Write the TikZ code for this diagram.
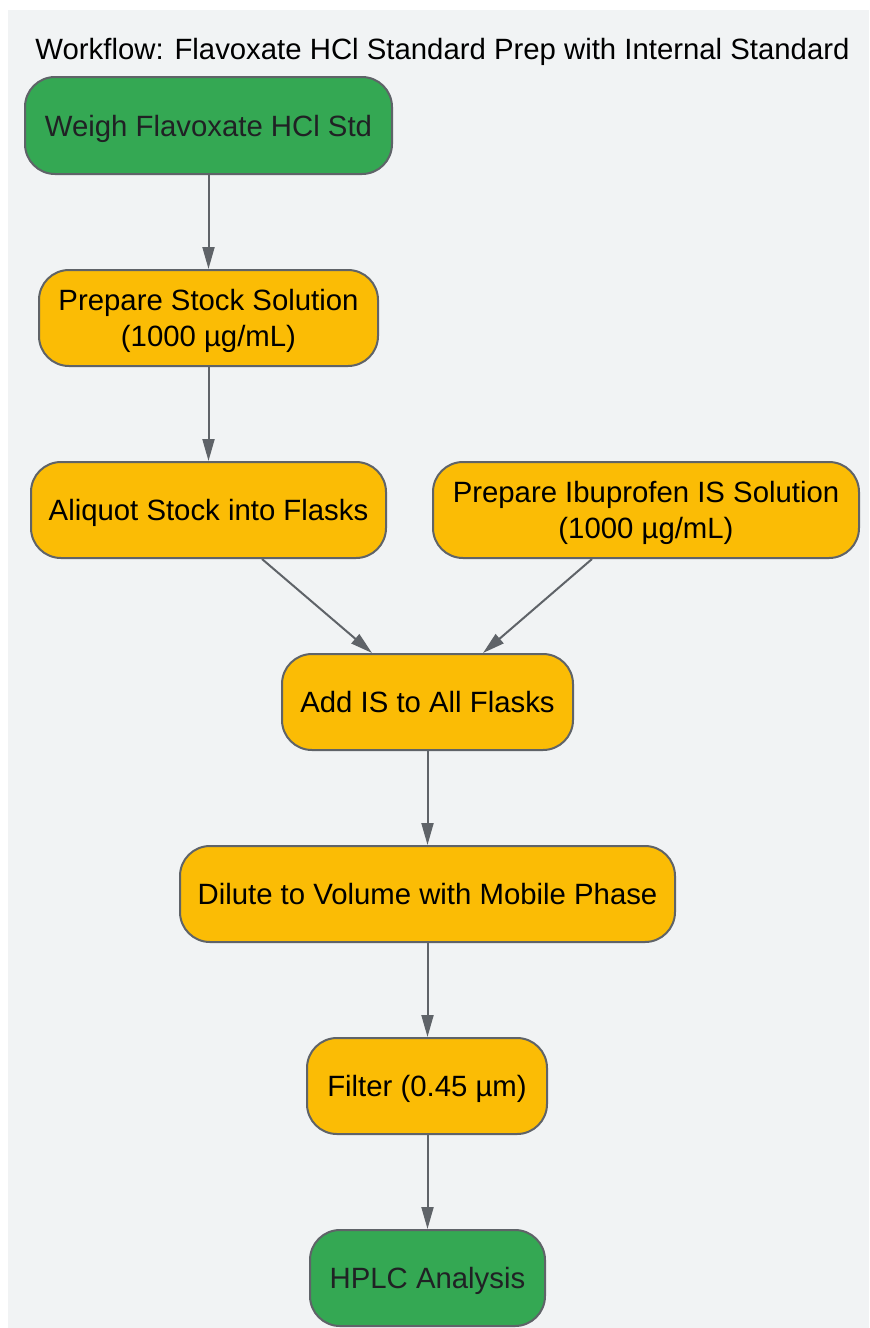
\documentclass[tikz,border=0pt]{standalone}
\usepackage{fontspec}
\setmainfont{Liberation Sans}
\usetikzlibrary{arrows.meta,calc}
\definecolor{bg}{HTML}{F1F3F4}
\definecolor{gfill}{HTML}{34A853}
\definecolor{yfill}{HTML}{FBBC05}
\definecolor{edge}{HTML}{5F6368}
\definecolor{dtext}{HTML}{202124}
\tikzset{
  box/.style={draw=edge, line width=1.5pt, rounded corners=22.5pt, minimum height=72pt,
    align=center, inner sep=0pt, font=\fontsize{22pt}{27pt}\selectfont,
    text height=15.8pt, text depth=0pt},
  twoline/.style={text height=42.8pt, text depth=0pt},
  greenbox/.style={box, fill=gfill, text=dtext},
  yellowbox/.style={box, fill=yfill, text=black},
  conn/.style={draw=edge, line width=1.5pt, -{Triangle[length=16.5pt,width=9pt]}}
}
\begin{document}
\begin{tikzpicture}[x=0.75pt,y=-0.75pt]
\useasboundingbox (0,0) rectangle (869,1328);
\fill[bg] (8,10) rectangle (869,1328);
\node[font=\fontsize{22pt}{27pt}\selectfont, text=black, inner sep=0pt, text height=15.8pt, text depth=0pt] (title) at (442.5,48.5) {Workflow: Flavoxate HCl Standard Prep with Internal Standard};
\node[greenbox, minimum width=275.25pt, minimum height=72.75pt] (weigh) at (208.5,125.5) {Weigh Flavoxate HCl Std};
\node[yellowbox, twoline, minimum width=254.25pt] (stock) at (208.5,318) {Prepare Stock Solution\\(1000 µg/mL)};
\node[yellowbox, minimum width=266.25pt] (aliq) at (208.5,510) {Aliquot Stock into Flasks};
\node[yellowbox, twoline, minimum width=319.5pt] (ibu) at (646,510) {Prepare Ibuprofen IS Solution\\(1000 µg/mL)};
\node[yellowbox, minimum width=218.25pt] (addis) at (427.5,702) {Add IS to All Flasks};
\node[yellowbox, minimum width=371.25pt] (dilute) at (427.5,894) {Dilute to Volume with Mobile Phase};
\node[yellowbox, minimum width=180pt] (filter) at (427,1086) {Filter (0.45 µm)};
\node[greenbox, minimum width=176.25pt] (hplc) at (427.5,1278) {HPLC Analysis};
\draw[conn] (weigh.south) -- (stock.north);
\draw[conn] (stock.south) -- (aliq.north);
\draw[conn] ([xshift=40.125pt]aliq.south) -- ([xshift=-41.625pt]addis.north);
\draw[conn] ([xshift=-40.5pt]ibu.south) -- ([xshift=41.625pt]addis.north);
\draw[conn] (addis.south) -- (dilute.north);
\draw[conn] (dilute.south) -- (filter.north -| dilute.south);
\draw[conn] (filter.south -| hplc.north) -- (hplc.north);
\end{tikzpicture}
\end{document}
